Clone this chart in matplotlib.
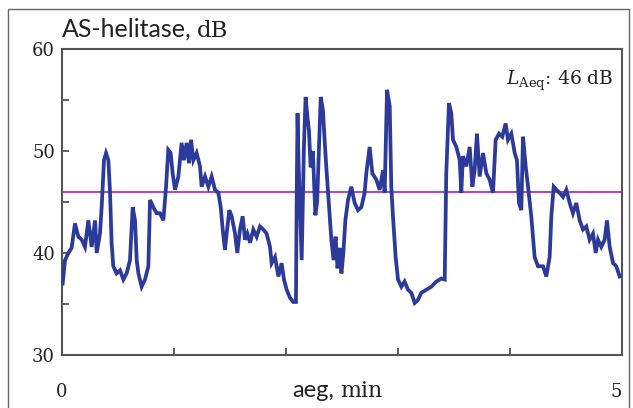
import matplotlib
matplotlib.use("Agg")
import matplotlib.pyplot as plt
from matplotlib.patches import Rectangle

# time in minutes, level in dB
time_min = [0.006, 0.027, 0.057, 0.086, 0.116, 0.146, 0.176, 0.205, 0.235, 0.265,
            0.295, 0.310, 0.339, 0.354, 0.375, 0.393, 0.414, 0.429, 0.443, 0.458,
            0.488, 0.518, 0.548, 0.577, 0.607, 0.631, 0.652, 0.667, 0.682, 0.711,
            0.741, 0.771, 0.786, 0.815, 0.845, 0.875, 0.905, 0.929, 0.949, 0.970,
            0.988, 1.009, 1.039, 1.068, 1.089, 1.113, 1.134, 1.152, 1.173, 1.202,
            1.232, 1.247, 1.277, 1.307, 1.336, 1.366, 1.396, 1.417, 1.435, 1.455,
            1.470, 1.494, 1.515, 1.545, 1.565, 1.589, 1.613, 1.634, 1.655, 1.679,
            1.708, 1.738, 1.768, 1.798, 1.827, 1.857, 1.872, 1.902, 1.932, 1.961,
            1.982, 2.006, 2.036, 2.065, 2.089,
            2.095, 2.103, 2.112, 2.125, 2.140, 2.150, 2.160, 2.175, 2.190, 2.205,
            2.220, 2.240, 2.262, 2.278, 2.295, 2.310, 2.330, 2.345, 2.360, 2.385,
            2.405, 2.425, 2.443, 2.460, 2.478, 2.495, 2.512, 2.530, 2.554,
            2.583, 2.613, 2.643, 2.673, 2.702, 2.717, 2.747, 2.771, 2.806, 2.836,
            2.866, 2.881, 2.902, 2.926, 2.940, 2.955, 2.979, 3.000, 3.030, 3.059,
            3.089, 3.119, 3.149, 3.178, 3.208, 3.253, 3.298, 3.342, 3.387, 3.417,
            3.431, 3.455, 3.476, 3.491, 3.521, 3.551, 3.565, 3.580, 3.610, 3.640,
            3.664, 3.684, 3.705, 3.729, 3.759, 3.789, 3.818, 3.848, 3.872, 3.902,
            3.931, 3.961, 3.982, 4.012, 4.042, 4.062, 4.080, 4.101, 4.116, 4.140,
            4.161, 4.190, 4.220, 4.250, 4.295, 4.324, 4.354, 4.369, 4.390, 4.414,
            4.443, 4.473, 4.503, 4.533, 4.562, 4.592, 4.622, 4.652, 4.681, 4.711,
            4.741, 4.765, 4.786, 4.815, 4.845, 4.866, 4.890, 4.920, 4.949, 4.979]

level_db = [37.0, 39.3, 40.0, 40.5, 42.9, 41.6, 41.3, 40.6, 43.2, 40.6,
            43.2, 40.0, 41.9, 44.5, 49.1, 49.8, 49.1, 45.9, 41.0, 38.7,
            38.0, 38.3, 37.4, 38.0, 39.3, 44.5, 43.2, 39.3, 38.0, 36.7,
            37.4, 38.7, 45.2, 44.5, 43.9, 43.9, 43.2, 46.5, 50.1, 49.8,
            47.8, 46.2, 47.5, 50.8, 49.1, 50.8, 48.8, 51.1, 49.1, 49.8,
            48.5, 46.5, 47.5, 46.5, 47.5, 46.2, 45.9, 44.5, 42.3, 40.3,
            41.9, 44.2, 43.6, 41.9, 40.0, 42.3, 43.6, 41.3, 41.9, 41.0,
            42.3, 41.6, 42.6, 42.3, 41.9, 40.6, 39.0, 39.6, 37.7, 39.0,
            37.4, 36.4, 35.6, 35.2, 35.2,
            45.0, 53.7, 49.0, 44.5, 39.3, 45.0, 50.4, 55.3, 53.5, 52.0,
            48.4, 50.0, 43.7, 45.0, 50.4, 55.3, 54.0, 51.0, 48.4, 44.5,
            41.3, 39.3, 41.6, 38.5, 40.5, 38.0, 40.0, 43.2, 45.2,
            46.5, 44.9, 44.2, 44.5, 45.9, 47.8, 50.4, 47.8, 47.2, 46.2,
            48.1, 45.9, 56.0, 54.4, 46.5, 43.6, 39.6, 37.4, 36.7, 37.2,
            36.4, 36.1, 35.1, 35.4, 36.1, 36.4, 36.7, 37.2, 37.5, 37.4,
            47.8, 54.7, 53.7, 51.1, 50.4, 49.1, 45.9, 49.5, 48.5, 50.4,
            46.5, 48.1, 51.7, 47.5, 49.8, 47.8, 47.2, 45.9, 51.1, 51.7,
            51.4, 52.7, 51.1, 51.7, 49.8, 49.1, 44.9, 44.2, 51.4, 48.5,
            46.5, 43.6, 39.6, 38.7, 38.7, 37.7, 39.6, 43.6, 46.5, 46.2,
            45.9, 45.5, 46.2, 44.9, 43.9, 44.9, 43.2, 42.3, 42.6, 41.3,
            41.9, 40.0, 41.3, 40.6, 41.3, 43.2, 40.6, 39.0, 38.7, 37.7]

laeq_db = 46
x_ticklabels = ["0", "5"]
y_ticks = [30, 40, 50, 60]

SERIF = "DejaVu Serif"
SANS = "Lato"
plt.rcParams["mathtext.fontset"] = "dejavuserif"

fig = plt.figure(figsize=(6.33, 4.08), dpi=100)
fig.patch.set_facecolor("white")
ax = fig.add_axes([62 / 633, 1 - 355 / 408, 560 / 633, 306 / 408])

ax.plot(time_min, level_db, color="#2b3a9b", lw=2.7, solid_joinstyle="miter", zorder=3)
ax.axhline(laeq_db, color="#a553b0", lw=1.6, zorder=2)

ax.set_xlim(0, 5)
ax.set_ylim(30, 60)
ax.set_yticks(y_ticks)
ax.set_yticks([35, 45, 55], minor=True)
ax.set_xticks([0, 5])
ax.set_xticks([1, 2, 3, 4], minor=True)
ax.set_xticklabels(x_ticklabels)
ax.tick_params(axis="both", which="both", direction="in", color="#444444", width=1.2)
ax.tick_params(axis="y", which="major", length=5, pad=5, labelsize=13)
ax.tick_params(axis="y", which="minor", length=5)
ax.tick_params(axis="x", which="major", length=0, pad=20, labelsize=13)
ax.tick_params(axis="x", which="minor", length=5)
for lab in ax.get_xticklabels() + ax.get_yticklabels():
    lab.set_fontfamily(SERIF)
    lab.set_color("#222222")
ax.get_xticklabels()[-1].set_horizontalalignment("right")
for sp in ax.spines.values():
    sp.set_color("#555555")
    sp.set_linewidth(1.5)

ax.text(0.985, 0.895, r"$L_{\mathrm{Aeq}}$: 46 dB", transform=ax.transAxes,
        ha="right", va="center", fontsize=13.5, family=SERIF, color="#222222")

# outer frame
fig.patches.append(Rectangle((8 / 633, -0.1), 621 / 633, 1.1 - 9 / 408,
                             transform=fig.transFigure, fill=False,
                             edgecolor="#666666", lw=1.0))

# title with mixed fonts
fig.canvas.draw()
r = fig.canvas.get_renderer()
t1 = fig.text(62 / 633, 1 - 37 / 408, "AS-helitase,", family=SANS, fontsize=18,
              color="#222222", ha="left", va="baseline")
bb = t1.get_window_extent(r)
fig.text((bb.x1 + 5) / 633, 1 - 37 / 408, "dB", family=SERIF, fontsize=16.5,
         color="#222222", ha="left", va="baseline")

# x-axis label with mixed fonts
t2 = fig.text(292 / 633, 1 - 397 / 408, "aeg,", family=SANS, fontsize=17,
              color="#222222", ha="left", va="baseline")
bb2 = t2.get_window_extent(r)
fig.text((bb2.x1 + 6) / 633, 1 - 397 / 408, "min", family=SERIF, fontsize=16,
         color="#222222", ha="left", va="baseline")

fig.savefig("out.png", dpi=100)
